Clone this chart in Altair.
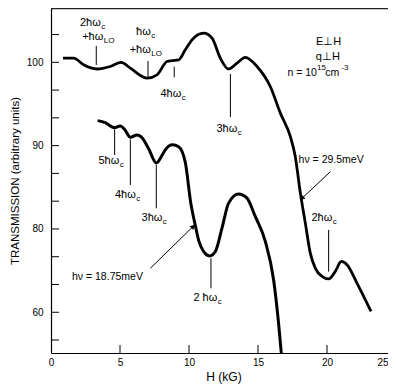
import altair as alt
import pandas as pd

# ---- data ----
upper_H = [0.87, 1.64, 2.36, 3.33, 4.30, 5.09, 5.75, 6.98, 7.68, 8.41, 8.79, 9.25, 9.73, 10.22,
           11.06, 11.67, 12.27, 12.87, 13.48, 14.08, 14.93, 15.89, 16.62, 17.34, 17.70, 18.07,
           18.43, 18.79, 19.15, 19.64, 20.12, 20.60, 21.04, 21.45, 22.17, 23.19]
upper_T = [100.5, 100.5, 99.7, 99.2, 99.5, 100.0, 99.3, 98.1, 98.5, 100.1, 100.2, 100.3, 101.5, 102.7,
           103.5, 102.9, 100.5, 99.2, 99.9, 100.6, 99.5, 97.1, 93.9, 91.1, 88.7, 84.3,
           80.7, 77.1, 75.3, 74.3, 74.0, 74.9, 76.1, 75.7, 73.5, 70.1]

lower_H = [3.38, 3.93, 4.59, 5.02, 5.31, 5.75, 6.23, 6.54, 7.05, 7.63, 8.07, 8.28, 8.80, 9.25,
           9.73, 10.13, 10.46, 10.72, 11.06, 11.49, 11.91, 12.39, 12.87, 13.59, 14.20, 14.80,
           15.53, 16.13, 16.49, 16.75]
lower_T = [93.0, 92.75, 92.15, 92.36, 92.0, 91.0, 91.28, 91.04, 89.72, 87.92, 88.9, 89.5, 90.1, 89.87,
           88.0, 83.1, 80.4, 78.5, 77.3, 76.76, 77.3, 80.1, 83.1, 84.2, 83.7, 81.5,
           78.5, 73.9, 68.7, 64.0]

x_tick_labels = [0, 5, 10, 15, 20, 25]
y_label_vals = [70, 80, 90, 100]
y_minor_ticks = [66.667, 70, 73.333, 76.667, 80, 83.333, 86.667, 90, 93.333, 96.667, 100, 103.333]
x_minor_ticks = [5, 10, 15, 20]

# annotation marker lines (H, top, bottom)
mark_H = [3.28, 7.03, 8.93, 13.0, 20.12, 4.61, 5.75, 7.63, 11.59]
mark_top = [101.96, 100.16, 99.47, 98.6, 79.88, 91.96, 90.76, 87.68, 76.48]
mark_bot = [99.68, 98.2, 98.2, 93.44, 74.87, 88.88, 85.28, 82.48, 72.88]

# labels with subscripts: main part right-aligned, subscript left-aligned at anchor
lab_main = ["2ħω", "+ħω", "ħω", "+ħω", "4ħω", "3ħω", "2ħω", "5ħω", "4ħω", "3ħω", "2 ħω"]
lab_sub = ["c", "LO", "c", "LO", "c", "c", "c", "c", "c", "c", "c"]
lab_H = [3.61, 3.79, 7.23, 7.23, 9.44, 13.5, 20.38, 4.95, 6.14, 8.07, 12.05]
lab_T = [104.75, 103.07, 103.67, 101.48, 96.2, 92.0, 81.28, 88.19, 84.08, 81.28, 71.68]

# plain texts
txt_center = ["E⊥H", "q⊥H"]
txt_center_H = [20.12, 20.06]
txt_center_T = [102.4, 100.65]

txt_left = ["hν = 29.5meV", "hν = 18.75meV", "cm"]
txt_left_H = [17.94, 1.52, 19.87]
txt_left_T = [88.28, 74.27, 98.75]

txt_right = ["n = 10"]
txt_right_H = [19.27]
txt_right_T = [98.75]

txt_sup = ["15", "-3"]
txt_sup_H = [19.27, 21.03]
txt_sup_T = [98.75, 98.75]

# arrows (from -> to)
arrow_H = [20.24, 7.2]
arrow_T = [86.87, 75.28]
arrow_H2 = [18.19, 10.3]
arrow_T2 = [83.68, 80.3]
arrow_angle = [227, 46]

W, HT = 337, 345
FONT = "Liberation Sans"

xs = alt.Scale(domain=[0, 25], range=[0, 345], nice=False, zero=False)
ys = alt.Scale(domain=[65.11, 106.52], nice=False, zero=False)

x_axis = alt.Axis(values=x_tick_labels, format="d", labelFlush=False, ticks=False, grid=False,
                  domainColor="black", domainWidth=1.2, labelFontSize=10, labelPadding=4,
                  labelAlign={"condition": {"test": "datum.value == 25", "value": "right"}, "value": "center"},
                  labelOffset={"condition": {"test": "datum.value == 25", "value": -8}, "value": 0},
                  labelColor="black", labelFont=FONT, titleFont=FONT, titleFontSize=12,
                  titleFontWeight="normal", titleColor="black", titlePadding=4)
y_axis = alt.Axis(values=y_label_vals, format="d", labelExpr="datum.value == 70 ? '60' : datum.label",
                  ticks=False, grid=False, domainColor="black", domainWidth=1.2, labelFontSize=10,
                  labelPadding=8, labelColor="black", labelFont=FONT, titleFont=FONT,
                  titleFontSize=11.5, titleFontWeight="normal", titleColor="black", titlePadding=6)

X = alt.X("H:Q", scale=xs, axis=x_axis, title="H (kG)")
Y = alt.Y("T:Q", scale=ys, axis=y_axis, title="TRANSMISSION (arbitrary units)")

upper = alt.Chart(pd.DataFrame({"H": upper_H, "T": upper_T})).mark_line(
    color="black", strokeWidth=2.8, interpolate="monotone").encode(x=X, y=Y)
lower = alt.Chart(pd.DataFrame({"H": lower_H, "T": lower_T})).mark_line(
    color="black", strokeWidth=3, interpolate="monotone", clip=True).encode(x=X, y=Y)

ytick = alt.Chart(pd.DataFrame({"T": y_minor_ticks})).mark_rule(color="black", strokeWidth=1).encode(
    y=Y, x=alt.value(0), x2=alt.value(8))
xtick = alt.Chart(pd.DataFrame({"H": x_minor_ticks})).mark_rule(color="black", strokeWidth=1).encode(
    x=X, y=alt.value(HT), y2=alt.value(HT - 8))
top_border = alt.Chart(pd.DataFrame({"H": [0]})).mark_rule(color="#222", strokeWidth=1.3).encode(
    x=alt.value(0), x2=alt.value(W), y=alt.value(0.6))

markers = alt.Chart(pd.DataFrame({"H": mark_H, "T": mark_top, "T2": mark_bot})).mark_rule(
    color="black", strokeWidth=1).encode(x=X, y=Y, y2="T2:Q")

arrows = alt.Chart(pd.DataFrame({"H": arrow_H, "T": arrow_T, "H2": arrow_H2, "T2": arrow_T2})).mark_rule(
    color="black", strokeWidth=1).encode(x=X, y=Y, x2="H2:Q", y2="T2:Q")
heads = alt.Chart(pd.DataFrame({"H": arrow_H2, "T": arrow_T2, "a": arrow_angle})).mark_point(
    shape="triangle-up", filled=True, color="black", size=28, opacity=1).encode(
    x=X, y=Y, angle=alt.Angle("a:Q", scale=None))

main_txt = alt.Chart(pd.DataFrame({"H": lab_H, "T": lab_T, "t": lab_main})).mark_text(
    align="right", baseline="middle", font=FONT, fontSize=11, color="black").encode(x=X, y=Y, text="t:N")
sub_txt = alt.Chart(pd.DataFrame({"H": lab_H, "T": lab_T, "t": lab_sub})).mark_text(
    align="left", baseline="middle", font=FONT, fontSize=8, color="black", dy=4, dx=0.5).encode(
    x=X, y=Y, text="t:N")

c_txt = alt.Chart(pd.DataFrame({"H": txt_center_H, "T": txt_center_T, "t": txt_center})).mark_text(
    align="center", baseline="middle", font=FONT, fontSize=11, color="black").encode(x=X, y=Y, text="t:N")
l_txt = alt.Chart(pd.DataFrame({"H": txt_left_H, "T": txt_left_T, "t": txt_left})).mark_text(
    align="left", baseline="middle", font=FONT, fontSize=10.5, color="black").encode(x=X, y=Y, text="t:N")
r_txt = alt.Chart(pd.DataFrame({"H": txt_right_H, "T": txt_right_T, "t": txt_right})).mark_text(
    align="right", baseline="middle", font=FONT, fontSize=10.5, color="black").encode(x=X, y=Y, text="t:N")
sup_txt = alt.Chart(pd.DataFrame({"H": txt_sup_H, "T": txt_sup_T, "t": txt_sup})).mark_text(
    align="left", baseline="middle", font=FONT, fontSize=8, color="black", dy=-5).encode(x=X, y=Y, text="t:N")

chart = alt.layer(
    upper, lower, ytick, xtick, top_border, markers, arrows, heads,
    main_txt, sub_txt, c_txt, l_txt, r_txt, sup_txt
).properties(
    width=W, height=HT,
    autosize=alt.AutoSizeParams(type="none"),
    padding={"left": 43, "top": 0, "right": 0, "bottom": 31},
    background="white"
).configure_view(stroke=None)

chart.save("out.html", embed_options={"renderer": "svg", "actions": False})
